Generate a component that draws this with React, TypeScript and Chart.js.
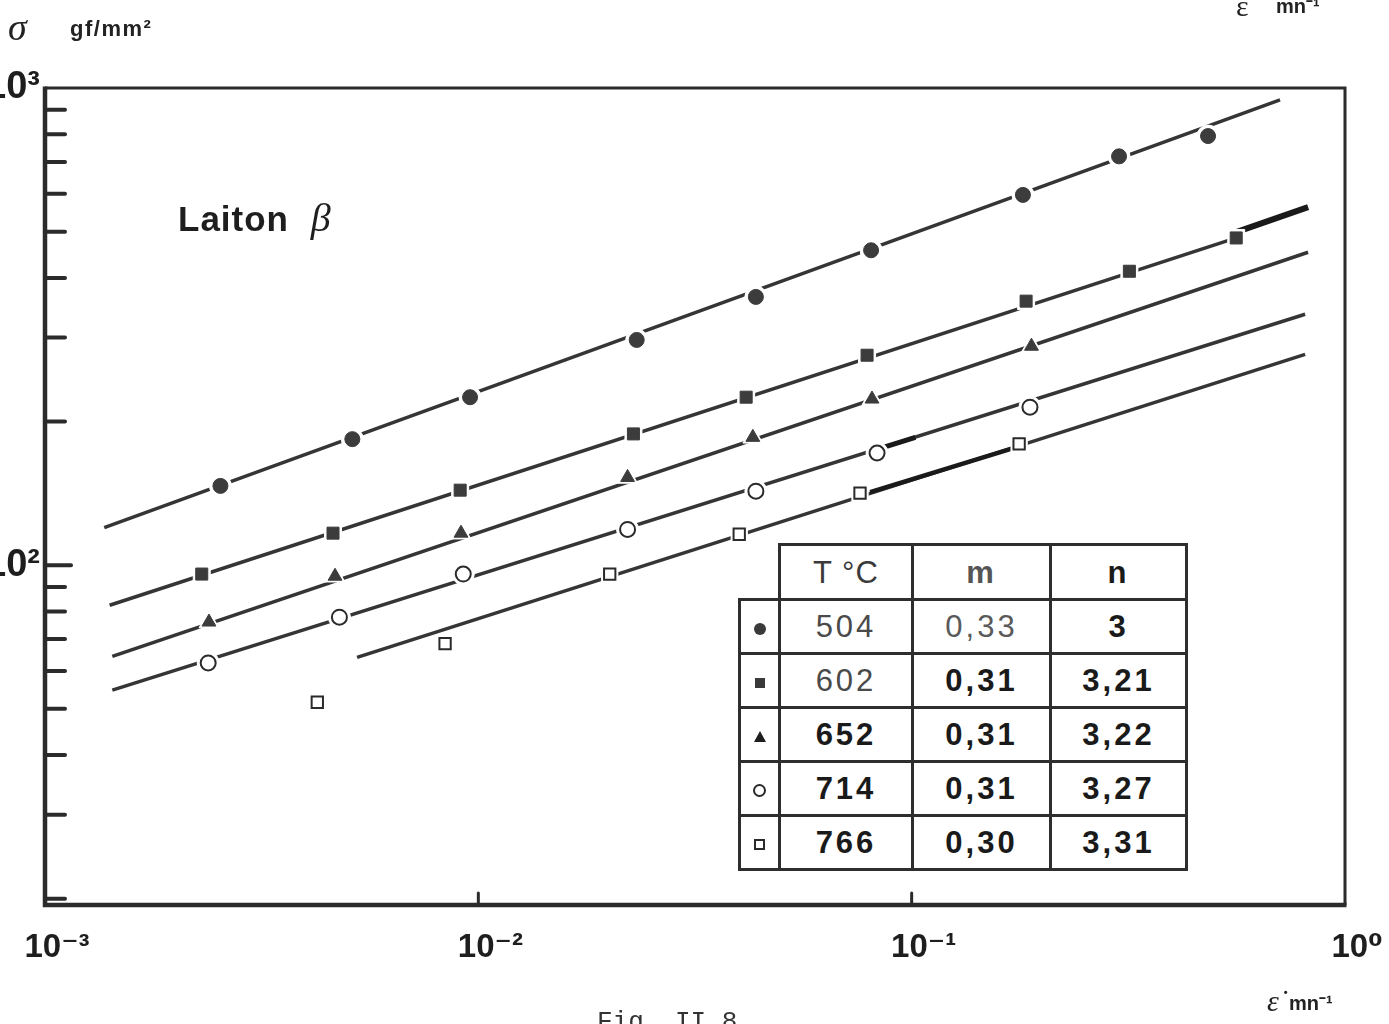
import React, { useEffect, useRef } from "react";
import { Chart, registerables } from "chart.js";

Chart.register(...registerables);

// ---------- data ----------
const temperatures = ["504", "602", "652", "714", "766"];
const mValues = ["0,33", "0,31", "0,31", "0,31", "0,30"];
const nValues = ["3", "3,21", "3,22", "3,27", "3,31"];

// strain rate (mn^-1) and stress (gf/mm^2) of the measured points
const rate504 = [0.00254, 0.00512, 0.00957, 0.0232, 0.0437, 0.0806, 0.1806, 0.301, 0.483];
const stress504 = [146.6, 183.7, 224.9, 296.5, 364.9, 457, 597, 719, 793];
const rate602 = [0.0023, 0.00462, 0.00908, 0.0228, 0.0415, 0.0789, 0.1837, 0.318, 0.561];
const stress602 = [95.8, 116.7, 143.6, 188.4, 224.9, 275.4, 357.5, 413, 485];
const rate652 = [0.00239, 0.00467, 0.00912, 0.0221, 0.043, 0.081, 0.189];
const stress652 = [76.0, 94.8, 116.7, 152.7, 185.3, 222.9, 287.6];
const rate714 = [0.00238, 0.00478, 0.00923, 0.0221, 0.0437, 0.0832, 0.1875];
const stress714 = [62.4, 77.8, 95.8, 118.8, 142.9, 171.8, 214.3];
const rate766 = [0.00425, 0.00838, 0.0201, 0.04, 0.076, 0.177];
const stress766 = [51.6, 68.5, 95.8, 116.1, 141.6, 179.5];

// fitted straight lines (end points)
const fitRate504 = [0.00137, 0.708];
const fitStress504 = [119.8, 944];
const fitRate602 = [0.00141, 0.561];
const fitStress602 = [82.4, 485];
const fitRate652 = [0.00143, 0.822];
const fitStress652 = [64.4, 452.7];
const fitRate714 = [0.00143, 0.809];
const fitStress714 = [54.7, 335.6];
const fitRate766 = [0.00525, 0.809];
const fitStress766 = [64.1, 276.6];

// heavier ink strokes drawn over parts of some lines
const boldRate602 = [0.561, 0.822];
const boldStress602 = [499, 563];
const boldRate714 = [0.0832, 0.102];
const boldStress714 = [174.9, 185.3];
const boldRate766 = [0.0802, 0.177];
const boldStress766 = [142.2, 177.4];

// axes
const xTickValues = [0.001, 0.01, 0.1, 1];
const xTickLabels = ["10⁻³", "10⁻²", "10⁻¹", "10⁰"];
const yTickValues = [100, 1000];
const yTickLabels = ["10²", "10³"];
const yMinorTicks = [20, 30, 40, 50, 60, 70, 80, 90, 200, 300, 400, 500, 600, 700, 800, 900];
const xInnerTicks = [0.01, 0.1];

const INK = "#353535";
const MARK = "#3c3c3c";

const pts = (xs: number[], ys: number[]) => xs.map((x, i) => ({ x, y: ys[i] }));

type MarkerDef = {
  xs: number[];
  ys: number[];
  style: string;
  radius: number;
  filled: boolean;
};

const markers: MarkerDef[] = [
  { xs: rate504, ys: stress504, style: "circle", radius: 7.5, filled: true },
  { xs: rate602, ys: stress602, style: "rect", radius: 8.5, filled: true },
  { xs: rate652, ys: stress652, style: "triangle", radius: 8, filled: true },
  { xs: rate714, ys: stress714, style: "circle", radius: 7.5, filled: false },
  { xs: rate766, ys: stress766, style: "rect", radius: 8, filled: false },
];

const fits = [
  [fitRate504, fitStress504],
  [fitRate602, fitStress602],
  [fitRate652, fitStress652],
  [fitRate714, fitStress714],
  [fitRate766, fitStress766],
];

const bolds = [
  [boldRate602, boldStress602, 6],
  [boldRate714, boldStress714, 5],
  [boldRate766, boldStress766, 4.5],
] as [number[], number[], number][];

const framePlugin = {
  id: "frameAndTicks",
  afterDatasetsDraw(chart: any) {
    const { ctx, chartArea } = chart;
    const { left, right, top, bottom } = chartArea;
    const xs = chart.scales.x;
    const ys = chart.scales.y;
    ctx.save();
    ctx.strokeStyle = "#2b2b2b";
    ctx.lineCap = "butt";
    ctx.lineWidth = 3;
    ctx.beginPath();
    ctx.moveTo(left, top);
    ctx.lineTo(right, top);
    ctx.lineTo(right, bottom);
    ctx.stroke();
    ctx.lineWidth = 4.5;
    ctx.beginPath();
    ctx.moveTo(left, top - 1.5);
    ctx.lineTo(left, bottom);
    ctx.lineTo(right + 1.5, bottom);
    ctx.stroke();
    ctx.lineWidth = 4;
    ctx.lineCap = "round";
    for (const v of yMinorTicks) {
      const y = ys.getPixelForValue(v);
      ctx.beginPath();
      ctx.moveTo(left, y);
      ctx.lineTo(left + 20, y);
      ctx.stroke();
    }
    for (const v of yTickValues) {
      const y = ys.getPixelForValue(v);
      if (Math.abs(y - top) < 2) continue;
      ctx.beginPath();
      ctx.moveTo(left, y);
      ctx.lineTo(left + 26, y);
      ctx.stroke();
    }
    ctx.lineWidth = 3;
    for (const v of xInnerTicks) {
      const x = xs.getPixelForValue(v);
      ctx.beginPath();
      ctx.moveTo(x, bottom);
      ctx.lineTo(x, bottom - 12);
      ctx.stroke();
    }
    ctx.restore();
  },
};

const fam = "'Liberation Sans', 'DejaVu Sans', sans-serif";

function ChartCanvas() {
  const ref = useRef<HTMLCanvasElement | null>(null);
  useEffect(() => {
    if (!ref.current) return;
    const datasets: any[] = [];
    fits.forEach(([xs, ys]) => {
      datasets.push({
        data: pts(xs, ys),
        showLine: true,
        borderColor: INK,
        borderWidth: 3.5,
        pointRadius: 0,
        order: 3,
      });
    });
    bolds.forEach(([xs, ys, w]) => {
      datasets.push({
        data: pts(xs, ys),
        showLine: true,
        borderColor: "#1a1a1a",
        borderWidth: w,
        pointRadius: 0,
        order: 2,
      });
    });
    markers.forEach((m) => {
      datasets.push({
        data: pts(m.xs, m.ys),
        showLine: false,
        pointStyle: m.style,
        pointRadius: m.radius + 3.5,
        pointBackgroundColor: "#ffffff",
        pointBorderColor: "#ffffff",
        pointBorderWidth: 1,
        order: 1,
      });
      datasets.push({
        data: pts(m.xs, m.ys),
        showLine: false,
        pointStyle: m.style,
        pointRadius: m.radius,
        pointBackgroundColor: m.filled ? MARK : "#ffffff",
        pointBorderColor: m.filled ? MARK : "#2a2a2a",
        pointBorderWidth: m.filled ? 1 : 2,
        order: 0,
      });
    });

    const chart = new Chart(ref.current, {
      type: "scatter",
      data: { datasets },
      options: {
        animation: false,
        responsive: false,
        layout: { padding: { top: 88, right: 44, left: 0, bottom: 0 } },
        plugins: { legend: { display: false }, tooltip: { enabled: false } },
        scales: {
          x: {
            type: "logarithmic",
            min: 0.001,
            max: 1,
            grid: {
              display: true,
              drawOnChartArea: false,
              drawTicks: true,
              tickLength: 23,
              color: "rgba(0,0,0,0)",
            },
            border: { display: false },
            afterFit: (s: any) => {
              s.height = 119;
            },
            afterBuildTicks: (s: any) => {
              s.ticks = xTickValues.map((v) => ({ value: v }));
            },
            ticks: {
              autoSkip: false,
              maxRotation: 0,
              padding: 0,
              labelOffset: 12,
              color: "#1e1e1e",
              font: { family: fam, size: 33, weight: "bold" },
              callback: (v: any) => {
                const i = xTickValues.findIndex((t) => Math.abs(t - Number(v)) < 1e-9);
                return i >= 0 ? xTickLabels[i] : "";
              },
            },
          },
          y: {
            type: "logarithmic",
            min: 19.4,
            max: 1000,
            grid: { display: false },
            border: { display: false },
            afterFit: (s: any) => {
              s.width = 45;
            },
            afterBuildTicks: (s: any) => {
              s.ticks = yTickValues.map((v) => ({ value: v }));
            },
            ticks: {
              autoSkip: false,
              padding: -3,
              color: "#1e1e1e",
              font: { family: fam, size: 38, weight: "bold" },
              callback: (v: any) => {
                const i = yTickValues.findIndex((t) => Math.abs(t - Number(v)) < 1e-9);
                return i >= 0 ? yTickLabels[i] : "";
              },
            },
          },
        },
      },
      plugins: [framePlugin],
    });
    return () => chart.destroy();
  }, []);
  return <canvas ref={ref} width={1389} height={1024} style={{ position: "absolute", left: 0, top: 0 }} />;
}

const sans = "'Liberation Sans', Arial, sans-serif";
const serif = "'Liberation Serif', 'DejaVu Serif', serif";

function Symbol({ kind }: { kind: number }) {
  const base: React.CSSProperties = { display: "inline-block", verticalAlign: "middle", boxSizing: "border-box" };
  if (kind === 0) return <span style={{ ...base, width: 12, height: 12, borderRadius: "50%", background: "#3a3a3a" }} />;
  if (kind === 1) return <span style={{ ...base, width: 10, height: 10, background: "#3a3a3a" }} />;
  if (kind === 2)
    return (
      <span
        style={{
          ...base,
          width: 0,
          height: 0,
          borderLeft: "6px solid transparent",
          borderRight: "6px solid transparent",
          borderBottom: "11px solid #1e1e1e",
        }}
      />
    );
  if (kind === 3) return <span style={{ ...base, width: 13, height: 13, borderRadius: "50%", border: "2px solid #2a2a2a" }} />;
  return <span style={{ ...base, width: 11, height: 11, border: "2px solid #2a2a2a" }} />;
}

const tempInk = ["#4a4a4a", "#4a4a4a", "#1a1a1a", "#1a1a1a", "#1a1a1a"];
const mInk = ["#5a5a5a", "#1a1a1a", "#1a1a1a", "#1a1a1a", "#1a1a1a"];

function ParamTable() {
  const border = "3px solid #2e2e2e";
  const cell: React.CSSProperties = {
    border,
    textAlign: "center",
    verticalAlign: "middle",
    padding: 0,
    fontFamily: sans,
    fontWeight: "bold",
    fontSize: 31,
    letterSpacing: 3,
    color: "#1a1a1a",
    lineHeight: 1,
  };
  return (
    <table
      style={{
        position: "absolute",
        left: 738,
        top: 543,
        borderCollapse: "collapse",
        tableLayout: "fixed",
        width: 447,
        background: "#fff",
      }}
    >
      <colgroup>
        <col style={{ width: 40 }} />
        <col style={{ width: 133 }} />
        <col style={{ width: 138 }} />
        <col style={{ width: 136 }} />
      </colgroup>
      <tbody>
        <tr style={{ height: 55 }}>
          <td style={{ ...cell, border: "none" }}></td>
          <td style={{ ...cell, letterSpacing: 1, color: "#3a3a3a", fontWeight: "normal" }}>T °C</td>
          <td style={{ ...cell, color: "#555" }}>m</td>
          <td style={{ ...cell, color: "#1a1a1a" }}>n</td>
        </tr>
        {temperatures.map((t, i) => (
          <tr key={t} style={{ height: 54 }}>
            <td style={{ ...cell, letterSpacing: 0 }}>
              <Symbol kind={i} />
            </td>
            <td style={{ ...cell, color: tempInk[i], fontWeight: i < 2 ? "normal" : "bold" }}>{t}</td>
            <td style={{ ...cell, color: mInk[i], fontWeight: i < 1 ? "normal" : "bold" }}>{mValues[i]}</td>
            <td style={{ ...cell }}>{nValues[i]}</td>
          </tr>
        ))}
      </tbody>
    </table>
  );
}

export default function App() {
  return (
    <div
      style={{
        position: "fixed",
        left: 0,
        top: 0,
        width: 1389,
        height: 1024,
        overflow: "hidden",
        background: "#ffffff",
      }}
    >
      <ChartCanvas />
      {/* y axis unit */}
      <div style={{ position: "absolute", left: 8, top: 8, fontFamily: serif, fontStyle: "italic", fontSize: 38, color: "#222", lineHeight: 1 }}>σ</div>
      <div style={{ position: "absolute", left: 70, top: 18, fontFamily: sans, fontWeight: "bold", fontSize: 22, color: "#222", lineHeight: 1, letterSpacing: 1.5 }}>
        gf/mm²
      </div>
      {/* x axis unit (bottom right) */}
      <div style={{ position: "absolute", left: 1267, top: 986, fontFamily: serif, fontStyle: "italic", fontSize: 30, color: "#222", lineHeight: 1 }}>
        ε̇
      </div>
      <div style={{ position: "absolute", left: 1289, top: 993, fontFamily: sans, fontWeight: "bold", fontSize: 20, color: "#222", lineHeight: 1 }}>
        mn⁻¹
      </div>
      {/* cut-off label from the figure above */}
      <div style={{ position: "absolute", left: 1236, top: -9, fontFamily: serif, fontSize: 30, color: "#222", lineHeight: 1 }}>ε</div>
      <div style={{ position: "absolute", left: 1276, top: -4, fontFamily: sans, fontWeight: "bold", fontSize: 20, color: "#222", lineHeight: 1 }}>
        mn⁻¹
      </div>
      {/* title */}
      <div style={{ position: "absolute", left: 178, top: 198, fontFamily: sans, fontWeight: "bold", fontSize: 35, color: "#1e1e1e", lineHeight: 1, letterSpacing: 1 }}>
        Laiton <span style={{ fontFamily: serif, fontStyle: "italic", fontWeight: "normal", fontSize: 40 }}>&nbsp;β</span>
      </div>
      <ParamTable />
      {/* caption, cut off at the bottom */}
      <div style={{ position: "absolute", left: 597, top: 1009, fontFamily: "'Liberation Mono', 'DejaVu Sans Mono', monospace", fontSize: 26, color: "#333", lineHeight: 1 }}>
        Fig. II.8
      </div>
    </div>
  );
}
